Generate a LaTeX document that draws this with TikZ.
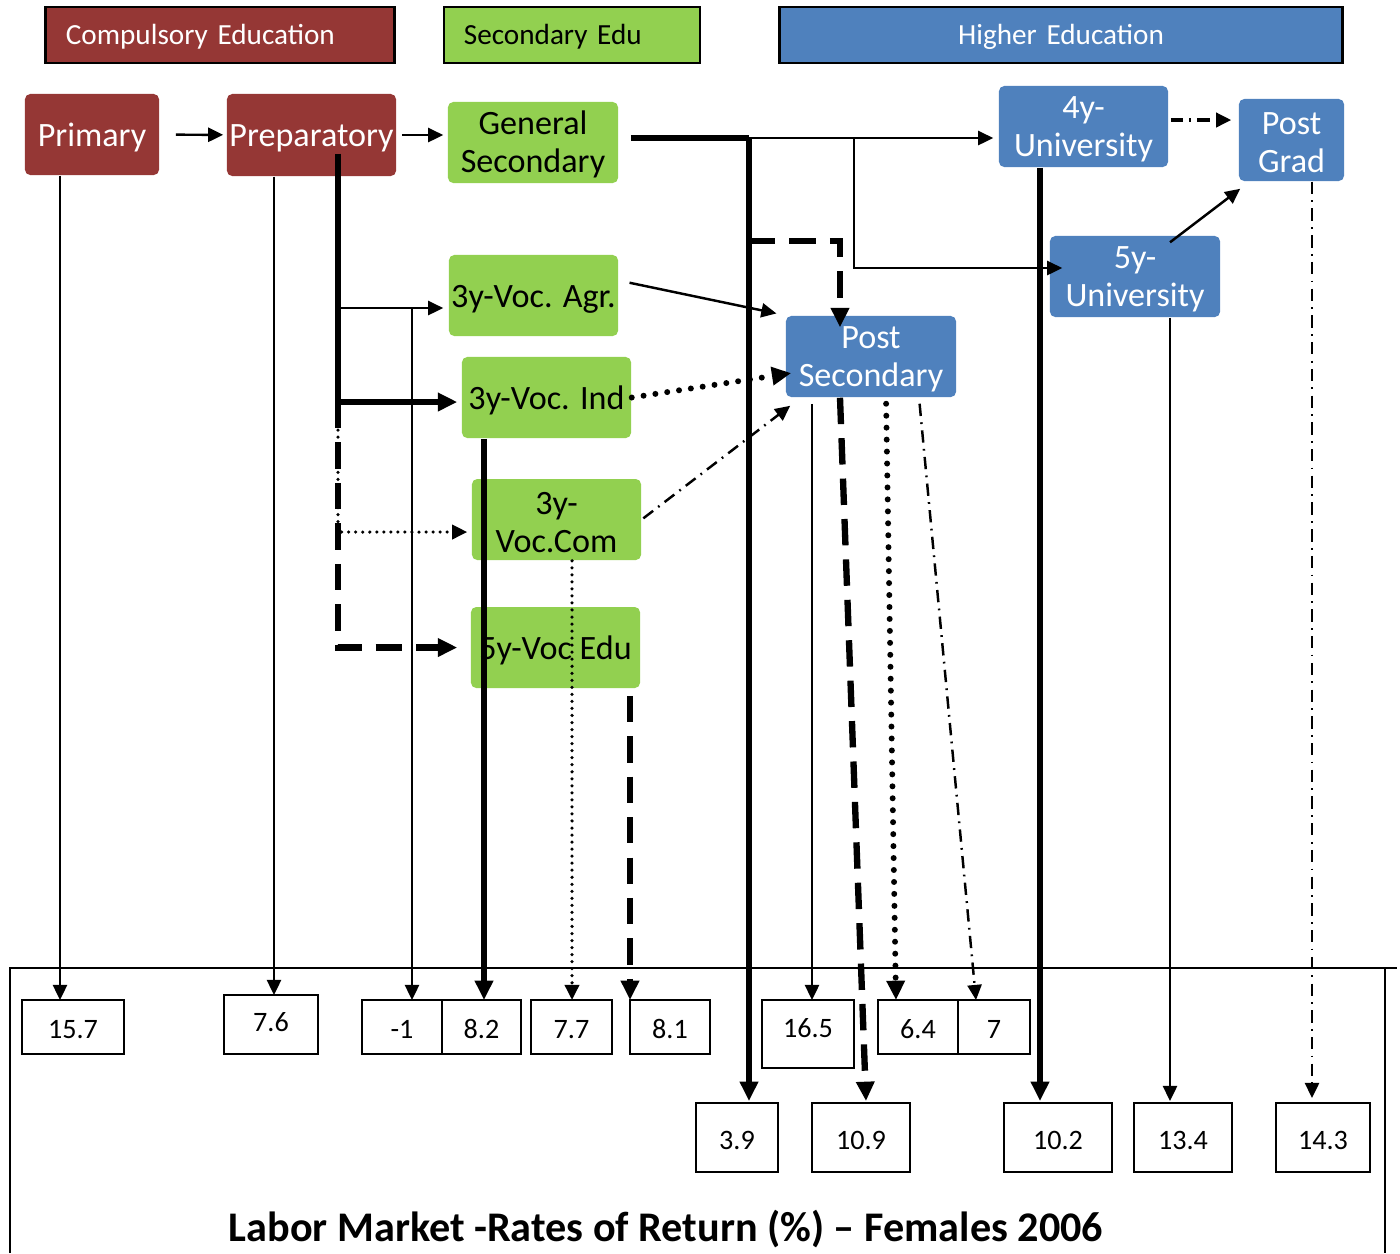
\documentclass[tikz,border=0pt]{standalone}
\usepackage{fontspec}
\setmainfont{Carlito}
\usetikzlibrary{arrows.meta}
\definecolor{cmpred}{HTML}{953735}
\definecolor{secgreen}{HTML}{92D050}
\definecolor{higblue}{HTML}{4F81BD}
\begin{document}
\begin{tikzpicture}[x=0.01cm,y=-0.01cm,
        hdr/.style={draw=black,line width=0.8pt,minimum height=0.56cm,inner ysep=0pt,inner xsep=0.2cm,text height=7pt,font=\fontsize{8.3}{10}\selectfont},
        stage/.style={rounded corners=1.5pt,minimum height=0.81cm,inner sep=0pt,align=center,font=\fontsize{9.7}{10.8}\selectfont},
        one/.style={text height=8.3pt},
        two/.style={text height=18.6pt},
        cmp/.style={stage,fill=cmpred,text=white},
        sec/.style={stage,fill=secgreen},
        hig/.style={stage,fill=higblue,text=white},
        val/.style={draw,line width=0.7pt,fill=white,inner sep=0pt,minimum width=0.8cm,minimum height=0.54cm,text height=6.8pt,text depth=0pt,font=\fontsize{8}{9}\selectfont},
        fine/.style={line width=0.7pt},
        heavy/.style={line width=1.8pt},
        tip/.style={-{Triangle[length=4.3pt,width=4pt]}},
        bigtip/.style={-{Triangle[length=5.5pt,width=5pt]}},
        longdash/.style={dash pattern=on 7.5pt off 4pt},
        bigdots/.style={line width=1.7pt,line cap=round,dash pattern=on 0pt off 3.4pt},
        smalldots/.style={line width=1pt,line cap=round,dash pattern=on 0pt off 2pt},
        dashdot/.style={dash pattern=on 3.5pt off 1.8pt on 0.5pt off 1.8pt}]
    \useasboundingbox (0,0) rectangle (1400,1253);

    \node[hdr,fill=cmpred,text=white,text width=3.08cm,align=left] (cmph) at (220,35) {Compulsory Education};
    \node[hdr,fill=secgreen,text width=2.16cm,align=left] (sech) at (572,35) {Secondary Edu};
    \node[hdr,fill=higblue,text=white,text width=5.22cm,align=center] (high) at (1061,35) {Higher Education};

    \node[cmp,one,minimum width=1.34cm] (prim) at (92,134.5) {Primary};
    \node[cmp,one,minimum width=1.69cm,minimum height=0.82cm] (prep) at (311.5,135) {Preparatory};
    \node[sec,two,minimum width=1.7cm] (gen) at (533,142.5) {General\\Secondary};
    \node[hig,two,minimum width=1.69cm] (uni4) at (1083.5,126.5) {4y-\\University};
    \node[hig,two,minimum width=1.05cm,minimum height=0.82cm] (pgrad) at (1291.5,140) {Post\\Grad};
    \node[hig,two,minimum width=1.7cm] (uni5) at (1135,276.5) {5y-\\University};
    \node[sec,one,minimum width=1.69cm] (agr) at (533.5,295.5) {3y-Voc. Agr.};
    \node[sec,one,minimum width=1.69cm] (ind) at (546.5,397.5) {3y-Voc. Ind};
    \node[hig,two,minimum width=1.7cm] (psec) at (871,356.5) {Post\\Secondary};
    \node[sec,two,minimum width=1.69cm] (com) at (556.5,519.5) {3y-\\Voc.Com};
    \node[sec,one,minimum width=1.69cm] (edu) at (555.5,647.5) {5y-Voc Edu};

    \draw[line width=0.7pt] (10,1253) -- (10,968) -- (1397,968) (1385,968) -- (1385,1253);

    \node[val,minimum width=1.02cm] (v157) at (73,1027) {15.7};
    \node[val,minimum width=0.94cm,minimum height=0.59cm,text depth=2.6pt] (v76) at (271,1024.5) {7.6};
    \node[val] (vm1) at (402,1027) {-1};
    \node[val,minimum width=0.79cm] (v82) at (481.5,1027) {8.2};
    \node[val,minimum width=0.81cm] (v77) at (571.5,1027) {7.7};
    \node[val] (v81) at (670,1027) {8.1};
    \node[val,minimum width=0.92cm,minimum height=0.68cm,text depth=5.1pt] (v165) at (808,1034) {16.5};
    \node[val] (v64) at (918,1027) {6.4};
    \node[val,minimum width=0.72cm] (v7) at (994,1027) {7};
    \node[val,minimum width=0.82cm,minimum height=0.69cm] (v39) at (737,1137.5) {3.9};
    \node[val,minimum width=0.98cm,minimum height=0.69cm] (v109) at (861,1137.5) {10.9};
    \node[val,minimum width=1.08cm,minimum height=0.69cm] (v102) at (1058,1137.5) {10.2};
    \node[val,minimum width=0.98cm,minimum height=0.69cm] (v134) at (1183,1137.5) {13.4};
    \node[val,minimum width=0.94cm,minimum height=0.69cm] (v143) at (1323,1137.5) {14.3};
    \node[font=\fontsize{12}{14}\selectfont\bfseries] (title) at (666,1229) {Labor Market -Rates of Return (\%) – Females 2006};

    \coordinate (a157) at (60,1000);
    \coordinate (a76) at (274,995);
    \coordinate (am1) at (412,1000);
    \coordinate (a82) at (484,1000);
    \coordinate (a77) at (572,1000);
    \coordinate (a81) at (630,1000);
    \coordinate (a165) at (812,1000);
    \coordinate (a64) at (896,1000);
    \coordinate (a7) at (976,1000);
    \coordinate (a39) at (749,1101);
    \coordinate (a109) at (866,1101);
    \coordinate (a102) at (1040,1101);
    \coordinate (a134) at (1170,1101);
    \coordinate (a143) at (1312,1098);
    \coordinate (pa) at (338,308);
    \coordinate (pv) at (338,402);
    \coordinate (pc) at (338,532);
    \coordinate (gv) at (749,138);
    \coordinate (gb) at (854,138);
    \coordinate (gc) at (854,268);
    \coordinate (gd) at (749,241);
    \coordinate (ge) at (840,241);
    \coordinate (u4r) at ([yshift=0.065cm]uni4.east);

    \draw[fine,tip,shorten <=0.16cm,shorten >=0.03cm] (prim) -- (prep);
    \draw[fine,tip,shorten <=0.05cm,shorten >=0.04cm] (prep.east) -- (prep.east -| gen.west);
    \draw[fine,tip] (prim.south -| a157) -- (a157);
    \draw[fine,tip] (prep.south -| a76) -- (a76);
    \draw[heavy,bigtip,shorten >=0.04cm] (prep.south -| pv) ++(0,-23) -- (pv) -- (pv -| ind.west);
    \draw[fine,tip,shorten >=0.05cm] (pa) -- (pa -| agr.west);
    \draw[fine,tip] (pa -| am1) -- (am1);
    \draw[heavy,longdash,bigtip,shorten >=0.13cm] (pv) -- (pv |- edu) -- (edu.west);
    \draw[smalldots,tip,shorten >=0.04cm] (pv) -- (pc) -- (pc -| com.west);
    \draw[heavy,bigtip] (ind.south -| a82) -- (a82);
    \draw[smalldots,tip] (com.south -| a77) -- (a77);
    \draw[heavy,longdash,bigtip,shorten <=0.07cm] (edu.south -| a81) -- (a81);
    \draw[heavy,shorten <=0.12cm] (gen.east |- gv) -- (gv);
    \draw[fine,tip,shorten >=0.05cm] (gv) -- (gv -| uni4.west);
    \draw[heavy,bigtip] (gv) -- (a39);
    \draw[fine,tip,shorten >=-0.13cm] (gb) -- (gc) -- (gc -| uni5.west);
    \draw[heavy,longdash,bigtip,shorten >=-0.12cm] (gd) -- (ge) -- (ge |- psec.north);
    \draw[heavy,longdash,bigtip] (psec.south -| ge) -- (a109);
    \draw[fine,tip,shorten <=0.11cm,shorten >=0.09cm] (agr.10) -- (psec.north west);
    \draw[bigdots,bigtip,shorten >=-0.06cm] (ind.east) -- ([yshift=-0.175cm]psec.west);
    \draw[fine,dashdot,tip,shorten <=0.02cm] (com.east) -- ([shift={(0.05cm,-0.08cm)}]psec.south west);
    \draw[fine,tip,shorten <=0.06cm] (psec.south -| a165) -- (a165);
    \draw[bigdots,bigtip,shorten <=0.06cm] ([xshift=0.15cm]psec.south) -- (a64);
    \draw[fine,dashdot,tip,shorten <=0.06cm] ([xshift=0.48cm]psec.south) -- (a7);
    \draw[heavy,bigtip] (uni4.south -| a102) -- (a102);
    \draw[fine,dashdot,tip,line width=1pt,shorten <=0.02cm,shorten >=0.07cm] (u4r) -- (u4r -| pgrad.west);
    \draw[fine,tip] ([shift={(0.35cm,-0.07cm)}]uni5.north) -- ([shift={(0.02cm,-0.07cm)}]pgrad.south west);
    \draw[fine,tip] (uni5.south -| a134) -- (a134);
    \draw[fine,dashdot,tip] (pgrad.south -| a143) -- (a143);
\end{tikzpicture}
\end{document}
